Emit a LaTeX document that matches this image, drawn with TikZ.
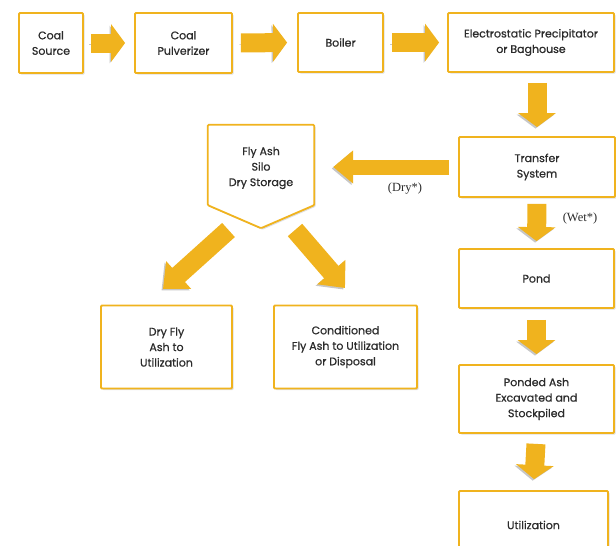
\documentclass[tikz,border=0pt]{standalone}
\usepackage{fontspec}
\setmainfont{Poppins}
\newfontfamily\boxfont{Poppins}[FakeBold=0.7]
\newfontfamily\serifl{Liberation Serif}
\usetikzlibrary{arrows.meta,shadows,calc}
\definecolor{ayel}{HTML}{F0B31E}
\definecolor{txt}{HTML}{2B2B2B}
\tikzset{
  boxtext/.style={align=center, text=txt, font=\boxfont\fontsize{11}{15.5}\selectfont},
  box/.style={boxtext, draw=ayel, line width=1.8pt, fill=white, rounded corners=1pt, inner sep=0pt,
    drop shadow={shadow xshift=1.5pt, shadow yshift=-1.5pt, opacity=0.25}},
  blk/.style={draw=ayel, line width=19pt, -{Triangle[width=37pt,length=14pt]},
    preaction={draw=black!22, transform canvas={xshift=-1.5pt,yshift=-1.5pt}}},
  blkd/.style={draw=ayel, line width=19pt, -{Triangle[width=36pt,length=21pt]},
    preaction={draw=black!22, transform canvas={xshift=-1.5pt,yshift=-1.5pt}}},
  lbl/.style={font=\serifl\fontsize{12.5}{14}\selectfont, text=txt}
}
\begin{document}
\begin{tikzpicture}[x=1pt,y=-1pt]
\useasboundingbox (0,0) rectangle (616,546);
\clip (0,0) rectangle (616,546);
% boxes
\node[box, minimum width=64pt, minimum height=60pt] (src) at (51,43) {Coal\\Source};
\node[box, minimum width=97pt, minimum height=60pt] (pulv) at (183.5,43) {Coal\\Pulverizer};
\node[box, minimum width=85pt, minimum height=59pt] (boil) at (340.5,42.5) {Boiler};
\node[box, minimum width=166pt, minimum height=59pt] (esp) at (531,42.5) {Electrostatic Precipitator\\or Baghouse};
\node[box, minimum width=156pt, minimum height=60pt] (trans) at (537,167) {Transfer\\System};
\node[box, minimum width=155pt, minimum height=59pt] (pond) at (536.5,278.5) {Pond};
\node[box, minimum width=155pt, minimum height=68pt] (ponded) at (536.5,399) {Ponded Ash\\Excavated and\\Stockpiled};
\node[box, minimum width=149pt, minimum height=68pt] (util) at (533.5,525) {Utilization};
\node[box, minimum width=131pt, minimum height=83pt] (dryfly) at (166.5,347) {Dry Fly\\Ash to\\Utilization};
\node[box, minimum width=143pt, minimum height=83pt] (cond) at (345.5,347) {Conditioned\\Fly Ash to Utilization\\or Disposal};
% silo
\node[boxtext, minimum width=106pt, minimum height=80pt, inner sep=0pt] (silo) at (261,165) {};
\draw[draw=ayel, line width=1.8pt, fill=white, rounded corners=1pt,
  drop shadow={shadow xshift=1.5pt, shadow yshift=-1.5pt, opacity=0.25}]
  (silo.north west) -- (silo.north east) -- (silo.south east) -- ($(silo.south)+(0,23)$) -- (silo.south west) -- cycle;
\node[boxtext] (silotext) at ($(silo.center)+(0,3)$) {Fly Ash\\Silo\\Dry Storage};
% arrows
\draw[blk, shorten <=7pt, shorten >=9pt] (src.east) -- (pulv.west);
\draw[blk, shorten <=8pt, shorten >=10pt] (pulv.east) -- (boil.west);
\draw[blk, shorten <=8pt, shorten >=8pt] (boil.east) -- (esp.west);
\draw[blk, shorten <=10pt, shorten >=9pt] (trans.north |- esp.south) -- (trans.north);
\draw[blkd, -{Triangle[width=32pt,length=20pt]}, line width=15pt, shorten <=9pt, shorten >=19pt] (trans.west) -- (trans.west -| silo.east);
\draw[blk, shorten <=6pt, shorten >=7pt] (trans.south) -- (pond.north);
\draw[blk, shorten <=11pt, shorten >=10pt] (pond.south) -- (ponded.north);
\draw[blk, shorten <=10pt, shorten >=11pt] (ponded.south) -- (util.north);
\coordinate (sl) at (228.5,230);
\coordinate (tl) at (163,289);
\coordinate (sr) at (295,230);
\coordinate (tr) at (345,288);
\draw[blkd] (sl) -- (tl);
\draw[blkd] (sr) -- (tr);
% labels
\node[lbl] (dry) at (405,189) {(Dry*)};
\node[lbl] (wet) at (580,218) {(Wet*)};
\end{tikzpicture}
\end{document}
